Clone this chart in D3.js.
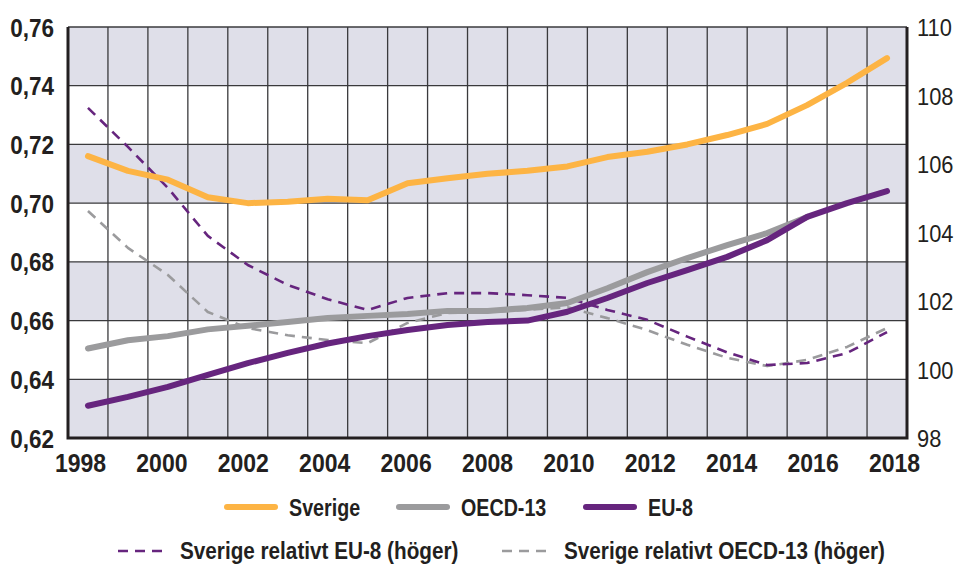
<!DOCTYPE html>
<html>
<head>
<meta charset="utf-8">
<script src="https://cdn.jsdelivr.net/npm/d3@7.9.0/dist/d3.min.js"></script>
<style>
  body { margin: 0; background: #fff; }
  svg text { font-family: "Liberation Sans", Arial, sans-serif; fill: #231f20; }
</style>
</head>
<body>
<svg id="chart" width="956" height="566"></svg>
<script>
// data
const years = d3.range(1998, 2019);
const sverige = [0.716, 0.711, 0.708, 0.702, 0.700, 0.7005, 0.7015, 0.701, 0.7068, 0.7085, 0.710, 0.711, 0.7125,
  0.7157, 0.7175, 0.720, 0.7232, 0.727, 0.7334, 0.741, 0.7494];
const oecd13 = [0.6505, 0.6533, 0.6547, 0.657, 0.6582, 0.6595, 0.6609, 0.6616, 0.6622, 0.6633, 0.6633, 0.6643, 0.666,
  0.671, 0.6765, 0.6813, 0.6857, 0.6898, 0.6953, null, null];
const eu8 = [0.631, 0.634, 0.6374, 0.6415, 0.6455, 0.649, 0.6522, 0.6547, 0.6568, 0.6585, 0.6595, 0.660, 0.663,
  0.6677, 0.6728, 0.6772, 0.6817, 0.6874, 0.6953, 0.700, 0.7041];
const relEu8 = [107.64, 106.5, 105.3, 103.9, 103.05, 102.47, 102.05, 101.74, 102.09, 102.23, 102.23, 102.17, 102.09,
  101.74, 101.45, 100.96, 100.5, 100.13, 100.19, 100.48, 101.09];
const relOecd13 = [104.63, 103.55, 102.76, 101.68, 101.21, 101.0, 100.86, 100.77, 101.36, 101.65, 101.68, 101.74, 101.82,
  101.5, 101.15, 100.72, 100.34, 100.1, 100.28, 100.66, 101.21];

const leftTicks = [0.62, 0.64, 0.66, 0.68, 0.70, 0.72, 0.74, 0.76];
const rightTicks = [98, 100, 102, 104, 106, 108, 110];
const yearTicks = d3.range(1998, 2019, 2);
const legendLabels1 = ["Sverige", "OECD-13", "EU-8"];
const legendLabels2 = ["Sverige relativt EU-8 (höger)", "Sverige relativt OECD-13 (höger)"];

const colors = { sverige: "#fdb444", oecd: "#9b9b9d", eu: "#66257e", band: "#dfdfe9" };

const svg = d3.select("#chart");
const plot = { left: 68, right: 907, top: 27, bottom: 438 };

const x = d3.scaleLinear().domain([1997.5, 2018.5]).range([plot.left, plot.right]);
const xLabel = d3.scaleLinear().domain([1998, 2018]).range([80, 894]);
const yL = d3.scaleLinear().domain([0.62, 0.76]).range([plot.bottom, plot.top]);
const yR = d3.scaleLinear().domain([98, 110]).range([plot.bottom, plot.top]);

// squeeze text to mimic the condensed typeface of the original
function condense(sel, k) {
  sel.each(function() {
    const w = this.getComputedTextLength();
    d3.select(this).attr("textLength", w * k).attr("lengthAdjust", "spacingAndGlyphs");
  });
}

// shaded bands
const bands = [[0.74, 0.76], [0.70, 0.72], [0.66, 0.68], [0.62, 0.64]];
svg.append("g").selectAll("rect")
  .data(bands)
  .enter()
  .append("rect")
  .attr("x", plot.left)
  .attr("width", plot.right - plot.left)
  .attr("y", d => yL(d[1]))
  .attr("height", d => yL(d[0]) - yL(d[1]))
  .attr("fill", colors.band);

// grid
const grid = svg.append("g").attr("stroke", "#3a3a3c").attr("stroke-width", 1.3);
grid.selectAll(".h")
  .data(leftTicks.slice(1))
  .enter()
  .append("line")
  .attr("x1", plot.left).attr("x2", plot.right)
  .attr("y1", d => yL(d)).attr("y2", d => yL(d));
grid.selectAll(".v")
  .data(d3.range(1998.5, 2018, 1))
  .enter()
  .append("line")
  .attr("x1", d => x(d)).attr("x2", d => x(d))
  .attr("y1", plot.top).attr("y2", plot.bottom);

// frame lines: left, bottom, right
svg.append("path")
  .attr("fill", "none").attr("stroke", "#231f20").attr("stroke-width", 3)
  .attr("d", `M${plot.left},${plot.top}V${plot.bottom}H${plot.right}V${plot.top}`);

// axes
const leftAxis = svg.append("g")
  .attr("transform", `translate(${plot.left - 11},0)`)
  .call(d3.axisLeft(yL).tickValues(leftTicks).tickSize(0).tickFormat(d => d3.format(".2f")(d).replace(".", ",")));
leftAxis.select(".domain").remove();
leftAxis.selectAll("text")
  .style("font-size", "25px").style("font-weight", "bold").attr("dy", "0.36em")
  .call(condense, 0.9);

const rightAxis = svg.append("g")
  .attr("transform", `translate(${plot.right + 7},0)`)
  .call(d3.axisRight(yR).tickValues(rightTicks).tickSize(0));
rightAxis.select(".domain").remove();
rightAxis.selectAll("text")
  .style("font-size", "23px").attr("dy", "0.38em")
  .call(condense, 0.95);

const bottomAxis = svg.append("g")
  .attr("transform", `translate(0,${plot.bottom + 13})`)
  .call(d3.axisBottom(xLabel).tickValues(yearTicks).tickSize(0).tickFormat(d3.format("d")));
bottomAxis.select(".domain").remove();
bottomAxis.selectAll("text")
  .style("font-size", "25px").style("font-weight", "bold").attr("dy", "0.71em")
  .call(condense, 0.92);

// lines
const lineL = d3.line().defined(d => d[1] != null).x(d => x(d[0])).y(d => yL(d[1]));
const lineR = d3.line().x(d => x(d[0])).y(d => yR(d[1]));

const series = [
  { values: relOecd13, axis: "R", color: colors.oecd, width: 2.6, dash: "10,7" },
  { values: relEu8, axis: "R", color: colors.eu, width: 2.6, dash: "10,7" },
  { values: sverige, axis: "L", color: colors.sverige, width: 6 },
  { values: oecd13, axis: "L", color: colors.oecd, width: 6 },
  { values: eu8, axis: "L", color: colors.eu, width: 6 }
];

svg.append("g").selectAll("path")
  .data(series)
  .enter()
  .append("path")
  .attr("fill", "none")
  .attr("stroke", d => d.color)
  .attr("stroke-width", d => d.width)
  .attr("stroke-dasharray", d => d.dash || null)
  .attr("stroke-linecap", d => d.dash ? "butt" : "round")
  .attr("stroke-linejoin", "round")
  .attr("d", d => {
    const pts = years.map((yr, i) => [yr, d.values[i]]);
    return d.axis === "L" ? lineL(pts) : lineR(pts);
  });

// legend
const legendX1 = [227, 399, 586];
const legendX2 = [118, 502];
const legendColors1 = [colors.sverige, colors.oecd, colors.eu];
const legendColors2 = [colors.eu, colors.oecd];

const leg1 = svg.append("g").selectAll("g")
  .data(legendLabels1)
  .enter()
  .append("g")
  .attr("transform", (d, i) => `translate(${legendX1[i]},507)`);
leg1.append("line")
  .attr("x1", 0).attr("x2", 48)
  .attr("stroke", (d, i) => legendColors1[i]).attr("stroke-width", 6).attr("stroke-linecap", "round");
leg1.append("text")
  .attr("x", 62).attr("dy", "0.36em")
  .style("font-size", "24px").style("font-weight", "bold")
  .text(d => d)
  .call(condense, 0.82);

const leg2 = svg.append("g").selectAll("g")
  .data(legendLabels2)
  .enter()
  .append("g")
  .attr("transform", (d, i) => `translate(${legendX2[i]},551)`);
leg2.append("line")
  .attr("x1", 0).attr("x2", 48)
  .attr("stroke", (d, i) => legendColors2[i]).attr("stroke-width", 2.6).attr("stroke-dasharray", "10,7");
leg2.append("text")
  .attr("x", 62).attr("dy", "0.36em")
  .style("font-size", "23px").style("font-weight", "bold")
  .text(d => d)
  .call(condense, 0.9);
</script>
</body>
</html>
